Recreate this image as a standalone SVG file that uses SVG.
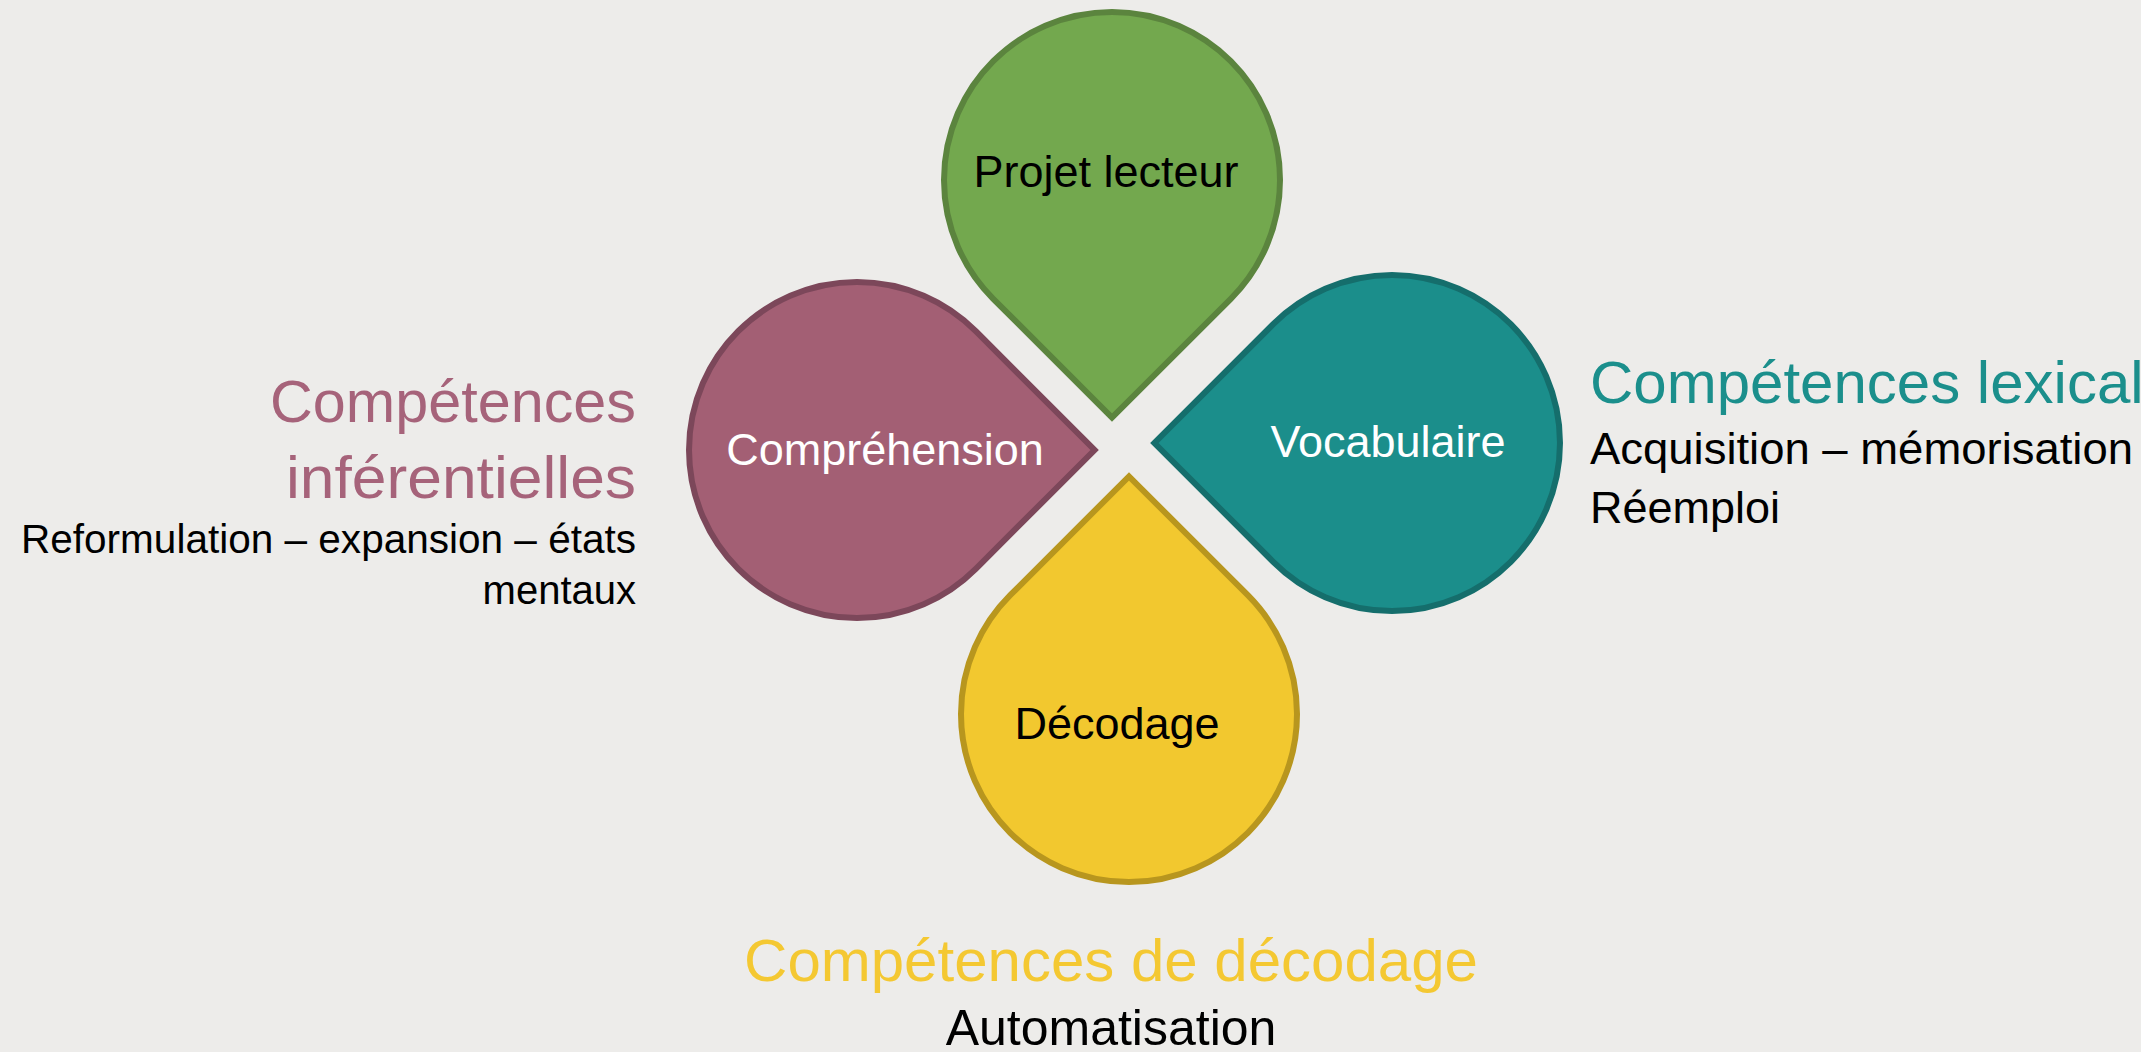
<svg xmlns="http://www.w3.org/2000/svg" width="2141" height="1052" viewBox="0 0 2141 1052">
  <style>
    .drop { stroke-width: 6; stroke-linejoin: miter; stroke-miterlimit: 10; }
    .lbl { font-family: "Liberation Sans", Arial, sans-serif; font-size: 45px; text-anchor: middle; }
    .head { font-family: "Liberation Sans", Arial, sans-serif; font-size: 60px; }
    .body { font-family: "Liberation Sans", Arial, sans-serif; fill: #000000; }
  </style>
  <rect x="0" y="0" width="2141" height="1052" fill="#EDECEA"/>

  <g id="connectors"></g>

  <g id="node-projet-lecteur">
    <path class="drop" fill="#73A84E" stroke="#5B843E" d="M 993.2 298.8 L 1112 417.6 L 1230.8 298.8 A 168 168 0 1 0 993.2 298.8 Z"/>
    <text class="lbl" x="1106" y="187" fill="#000000">Projet lecteur</text>
  </g>

  <g id="node-comprehension">
    <path class="drop" fill="#A35F74" stroke="#7C475A" d="M 975.8 331.2 L 1094.6 450 L 975.8 568.8 A 168 168 0 1 1 975.8 331.2 Z"/>
    <text class="lbl" x="885" y="465" fill="#FFFFFF">Compréhension</text>
  </g>

  <g id="node-vocabulaire">
    <path class="drop" fill="#1B8E8B" stroke="#156E6C" d="M 1273.2 324.2 L 1154.4 443 L 1273.2 561.8 A 168 168 0 1 0 1273.2 324.2 Z"/>
    <text class="lbl" x="1388" y="457" fill="#FFFFFF">Vocabulaire</text>
  </g>

  <g id="node-decodage">
    <path class="drop" fill="#F2C82F" stroke="#B8961E" d="M 1010.2 595.2 L 1129 476.4 L 1247.8 595.2 A 168 168 0 1 1 1010.2 595.2 Z"/>
    <text class="lbl" x="1117" y="739" fill="#000000">Décodage</text>
  </g>

  <g id="text-inferentielles">
    <text class="head" x="636" y="422" fill="#A6637A" text-anchor="end" textLength="366" lengthAdjust="spacingAndGlyphs">Compétences</text>
    <text class="head" x="636" y="498" fill="#A6637A" text-anchor="end" textLength="350" lengthAdjust="spacingAndGlyphs">inférentielles</text>
    <text class="body" x="636" y="553" font-size="40" text-anchor="end" textLength="615" lengthAdjust="spacingAndGlyphs">Reformulation – expansion – états</text>
    <text class="body" x="636" y="604" font-size="40" text-anchor="end">mentaux</text>
  </g>

  <g id="text-lexical">
    <text class="head" x="1590" y="403" fill="#1B8F8C" font-size="59.5">Compétences lexical</text>
    <text class="body" x="1590" y="464" font-size="45" textLength="543" lengthAdjust="spacingAndGlyphs">Acquisition – mémorisation</text>
    <text class="body" x="1590" y="523" font-size="45">Réemploi</text>
  </g>

  <g id="text-decodage">
    <text class="head" x="1111" y="981" fill="#F4C832" text-anchor="middle">Compétences de décodage</text>
    <text class="body" x="1111" y="1045" font-size="50" text-anchor="middle">Automatisation</text>
  </g>
</svg>
